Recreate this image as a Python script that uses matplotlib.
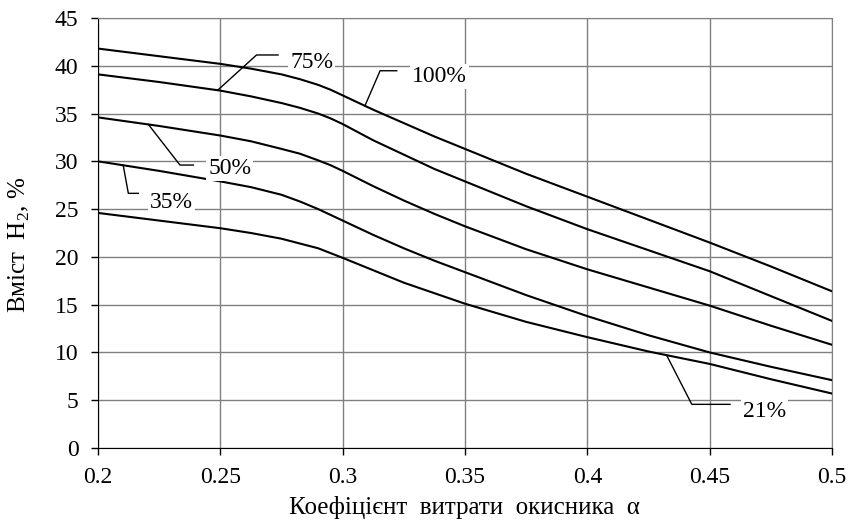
import numpy as np
import matplotlib
matplotlib.use("Agg")
import matplotlib.pyplot as plt

plt.rcParams['font.family'] = ['Liberation Serif', 'DejaVu Serif']
plt.rcParams['mathtext.fontset'] = 'custom'
plt.rcParams['mathtext.rm'] = 'Liberation Serif'
plt.rcParams['font.size'] = 17

# coefficient alpha
alpha = [0.2, 0.225, 0.25, 0.2625, 0.275, 0.2825, 0.29, 0.295, 0.3, 0.3125, 0.325, 0.3375,
         0.35, 0.375, 0.4, 0.425, 0.45, 0.475, 0.5]

# H2 content, % for each oxygen concentration
h2_100 = [41.8, 41.0, 40.2, 39.7, 39.1, 38.6, 38.0, 37.5, 36.9, 35.4, 34.0, 32.6,
          31.3, 28.7, 26.3, 23.9, 21.5, 19.0, 16.4]
h2_75 = [39.1, 38.3, 37.4, 36.8, 36.1, 35.6, 35.0, 34.5, 33.9, 32.2, 30.7, 29.2,
         27.9, 25.3, 22.9, 20.7, 18.5, 15.9, 13.3]
h2_50 = [34.6, 33.7, 32.7, 32.1, 31.3, 30.8, 30.1, 29.6, 29.0, 27.4, 25.9, 24.5,
         23.2, 20.8, 18.7, 16.8, 14.9, 12.8, 10.8]
h2_35 = [30.0, 29.0, 27.9, 27.3, 26.5, 25.8, 25.0, 24.4, 23.8, 22.3, 20.9, 19.6,
         18.4, 16.0, 13.8, 11.8, 10.0, 8.5, 7.1]
h2_21 = [24.6, 23.8, 23.0, 22.5, 21.9, 21.4, 20.9, 20.4, 19.9, 18.6, 17.3, 16.2,
         15.1, 13.2, 11.6, 10.1, 8.8, 7.2, 5.7]

series = [h2_100, h2_75, h2_50, h2_35, h2_21]
labels = ['100%', '75%', '50%', '35%', '21%']

x_ticks = [0.2, 0.25, 0.3, 0.35, 0.4, 0.45, 0.5]
x_tick_labels = ['0.2', '0.25', '0.3', '0.35', '0.4', '0.45', '0.5']
y_ticks = list(range(0, 50, 5))

# label callouts: anchor alpha on curve, knee point, end of shelf, text position
callouts = [
    (0.3091, (0.3153, 39.48), 0.3221, (0.3282, 38.84)),
    (0.2489, (0.2648, 41.13), 0.2736, (0.2785, 40.34)),
    (0.2206, (0.2335, 29.61), 0.2390, (0.2450, 29.25)),
    (0.2103, (0.2124, 26.65), 0.2165, (0.2213, 25.74)),
    (0.4324, (0.4427, 4.57), 0.4583, (0.4636, 3.82)),
]

fig = plt.figure(figsize=(8.5, 5.23), dpi=100)
ax = fig.add_axes([0.1153, 0.1434, 0.8635, 0.8222])

for ys in series:
    ax.plot(alpha, ys, color='black', lw=1.5, zorder=3, solid_joinstyle='round')

for ys, lab, (a0, knee, a_end, tpos) in zip(series, labels, callouts):
    y0 = np.interp(a0, alpha, ys)
    ax.plot([a0, knee[0], a_end], [y0, knee[1], knee[1]], color='black', lw=1.0, zorder=3)
    ax.text(tpos[0], tpos[1], lab, ha='left', va='center', fontsize=17, zorder=4,
            bbox=dict(facecolor='white', edgecolor='none', pad=1.5))

ax.set_xlim(0.2, 0.5)
ax.set_ylim(0, 45)
ax.set_xticks(x_ticks)
ax.set_xticklabels(x_tick_labels)
ax.set_yticks(y_ticks)
ax.grid(True, color='#808080', lw=1.0, zorder=0)
ax.set_axisbelow(True)
ax.tick_params(direction='out', length=5, width=1, pad=9, labelsize=17)

for s in ['top', 'right']:
    ax.spines[s].set_color('#808080')
for s in ['left', 'bottom']:
    ax.spines[s].set_color('black')

ax.set_xlabel('Коефіцієнт  витрати  окисника  α', fontsize=18)
ax.set_ylabel('Вміст  H$_2$, %', fontsize=18)
ax.xaxis.set_label_coords(0.4986, -0.112)
ax.yaxis.set_label_coords(-0.09, 0.472)

fig.savefig('out.png', dpi=100)
